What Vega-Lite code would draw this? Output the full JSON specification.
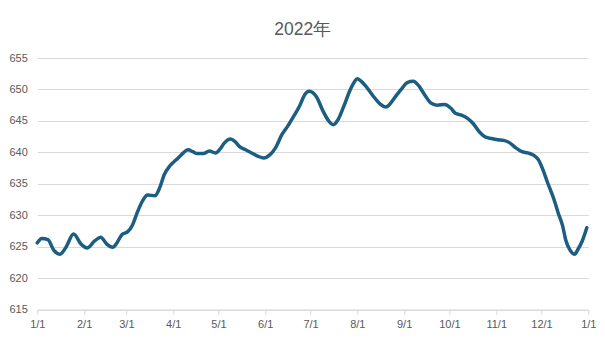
{
  "$schema": "https://vega.github.io/schema/vega-lite/v6.json",
  "width": 551,
  "height": 251.5,
  "autosize": "none",
  "padding": {"left": 37.3, "top": 58, "right": 16.7, "bottom": 31.5},
  "background": "white",
  "title": {
    "text": "2022年",
    "fontSize": 17.5,
    "font": "Liberation Sans",
    "fontWeight": "normal",
    "color": "#595959",
    "anchor": "middle",
    "dx": -10,
    "offset": 14
  },
  "data": {
    "values": [
      {"date": "2022-01-01", "v": 625.6},
      {"date": "2022-01-04", "v": 626.3},
      {"date": "2022-01-08", "v": 626.1},
      {"date": "2022-01-12", "v": 624.4},
      {"date": "2022-01-16", "v": 623.8},
      {"date": "2022-01-20", "v": 624.9},
      {"date": "2022-01-25", "v": 627.0},
      {"date": "2022-01-30", "v": 625.4},
      {"date": "2022-02-03", "v": 624.8},
      {"date": "2022-02-08", "v": 625.9},
      {"date": "2022-02-12", "v": 626.5},
      {"date": "2022-02-16", "v": 625.4},
      {"date": "2022-02-20", "v": 624.9},
      {"date": "2022-02-23", "v": 625.7},
      {"date": "2022-02-26", "v": 626.9},
      {"date": "2022-03-02", "v": 627.4},
      {"date": "2022-03-05", "v": 628.4},
      {"date": "2022-03-08", "v": 630.3},
      {"date": "2022-03-12", "v": 632.4},
      {"date": "2022-03-15", "v": 633.2},
      {"date": "2022-03-20", "v": 633.1},
      {"date": "2022-03-23", "v": 634.3},
      {"date": "2022-03-26", "v": 636.4},
      {"date": "2022-03-30", "v": 637.9},
      {"date": "2022-04-03", "v": 638.8},
      {"date": "2022-04-06", "v": 639.5},
      {"date": "2022-04-11", "v": 640.4},
      {"date": "2022-04-14", "v": 640.1},
      {"date": "2022-04-17", "v": 639.8},
      {"date": "2022-04-21", "v": 639.8},
      {"date": "2022-04-25", "v": 640.2},
      {"date": "2022-04-29", "v": 639.9},
      {"date": "2022-05-02", "v": 640.5},
      {"date": "2022-05-05", "v": 641.5},
      {"date": "2022-05-09", "v": 642.1},
      {"date": "2022-05-12", "v": 641.7},
      {"date": "2022-05-15", "v": 640.9},
      {"date": "2022-05-19", "v": 640.4},
      {"date": "2022-05-23", "v": 639.9},
      {"date": "2022-05-27", "v": 639.4},
      {"date": "2022-05-31", "v": 639.1},
      {"date": "2022-06-04", "v": 639.6},
      {"date": "2022-06-08", "v": 640.8},
      {"date": "2022-06-12", "v": 642.8},
      {"date": "2022-06-16", "v": 644.2},
      {"date": "2022-06-20", "v": 645.8},
      {"date": "2022-06-24", "v": 647.5},
      {"date": "2022-06-27", "v": 649.1},
      {"date": "2022-06-30", "v": 649.7},
      {"date": "2022-07-05", "v": 648.8},
      {"date": "2022-07-09", "v": 646.7},
      {"date": "2022-07-13", "v": 645.0},
      {"date": "2022-07-16", "v": 644.4},
      {"date": "2022-07-19", "v": 645.1},
      {"date": "2022-07-23", "v": 647.3},
      {"date": "2022-07-27", "v": 649.8},
      {"date": "2022-07-30", "v": 651.2},
      {"date": "2022-08-01", "v": 651.7},
      {"date": "2022-08-04", "v": 651.2},
      {"date": "2022-08-08", "v": 650.1},
      {"date": "2022-08-12", "v": 648.8},
      {"date": "2022-08-16", "v": 647.7},
      {"date": "2022-08-20", "v": 647.2},
      {"date": "2022-08-23", "v": 647.8},
      {"date": "2022-08-27", "v": 649.1},
      {"date": "2022-08-31", "v": 650.3},
      {"date": "2022-09-03", "v": 651.1},
      {"date": "2022-09-07", "v": 651.3},
      {"date": "2022-09-11", "v": 650.5},
      {"date": "2022-09-15", "v": 649.0},
      {"date": "2022-09-19", "v": 647.8},
      {"date": "2022-09-23", "v": 647.5},
      {"date": "2022-09-28", "v": 647.6},
      {"date": "2022-10-02", "v": 647.0},
      {"date": "2022-10-05", "v": 646.2},
      {"date": "2022-10-09", "v": 645.9},
      {"date": "2022-10-13", "v": 645.4},
      {"date": "2022-10-17", "v": 644.5},
      {"date": "2022-10-21", "v": 643.2},
      {"date": "2022-10-25", "v": 642.4},
      {"date": "2022-10-29", "v": 642.2},
      {"date": "2022-11-02", "v": 642.0},
      {"date": "2022-11-06", "v": 641.9},
      {"date": "2022-11-10", "v": 641.5},
      {"date": "2022-11-14", "v": 640.7},
      {"date": "2022-11-18", "v": 640.1},
      {"date": "2022-11-22", "v": 639.9},
      {"date": "2022-11-26", "v": 639.5},
      {"date": "2022-11-29", "v": 638.8},
      {"date": "2022-12-02", "v": 637.2},
      {"date": "2022-12-05", "v": 635.2},
      {"date": "2022-12-09", "v": 632.7},
      {"date": "2022-12-12", "v": 630.4},
      {"date": "2022-12-15", "v": 628.3},
      {"date": "2022-12-17", "v": 626.1},
      {"date": "2022-12-20", "v": 624.4},
      {"date": "2022-12-23", "v": 623.8},
      {"date": "2022-12-25", "v": 624.5},
      {"date": "2022-12-28", "v": 625.9},
      {"date": "2022-12-31", "v": 628.0}
    ]
  },
  "mark": {
    "type": "line",
    "interpolate": "monotone",
    "color": "#1b5e82",
    "strokeWidth": 3.5,
    "strokeCap": "round",
    "strokeJoin": "round"
  },
  "encoding": {
    "x": {
      "field": "date",
      "type": "temporal",
      "scale": {"type": "utc", "domain": [{"year": 2022, "month": 1, "date": 1, "utc": true}, {"year": 2023, "month": 1, "date": 1, "utc": true}], "nice": false},
      "axis": {
        "title": null,
        "labelExpr": "utcFormat(datum.value, '%-m/%-d')",
        "tickCount": {"interval": "month", "step": 1},
        "grid": false,
        "domainColor": "#d9d9d9",
        "tickColor": "#d9d9d9",
        "tickSize": 5,
        "labelPadding": 4,
        "labelFont": "Liberation Sans",
        "labelFontSize": 11,
        "labelColor": "#595959",
        "labelFlush": false,
        "labelOverlap": false
      }
    },
    "y": {
      "field": "v",
      "type": "quantitative",
      "scale": {"domain": [615, 655], "nice": false, "zero": false},
      "axis": {
        "title": null,
        "values": [615, 620, 625, 630, 635, 640, 645, 650, 655],
        "domain": false,
        "ticks": false,
        "gridColor": "#d9d9d9",
        "gridWidth": 1,
        "labelPadding": 10,
        "labelFont": "Liberation Sans",
        "labelFontSize": 11,
        "labelColor": "#595959"
      }
    }
  },
  "config": {"view": {"stroke": null}}
}
